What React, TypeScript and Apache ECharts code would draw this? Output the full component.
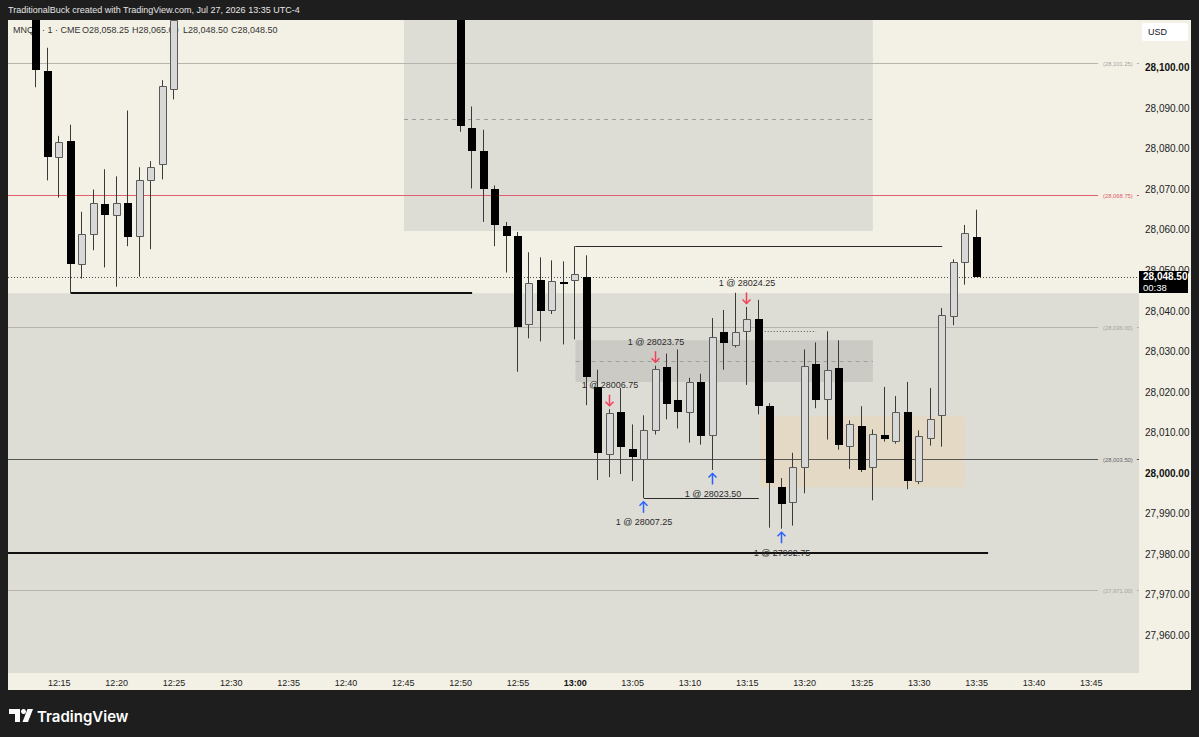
import React, { useEffect, useRef } from "react";
import * as echarts from "echarts";

// ---------------- data ----------------
// minute index: 0 = 12:15
const BASE_MINUTE = 12 * 60 + 15;
const X_MIN = -4.474;
const X_MAX = 94.16;
const Y_MIN = 27950.62;
const Y_MAX = 28111.85;

const candleMinute = [
  -2, -1, 0, 1, 2, 3, 4, 5, 6, 7, 8, 9, 10,
  35, 36, 37, 38, 39, 40, 41, 42, 43, 44, 45, 46, 47, 48, 49, 50,
  51, 52, 53, 54, 55, 56, 57, 58, 59, 60, 61, 62, 63, 64, 65, 66,
  67, 68, 69, 70, 71, 72, 73, 74, 75, 76, 77, 78, 79, 80,
];
const candleOpen = [
  28116, 28099.25, 28078, 28082, 28051.5, 28059, 28066.5, 28063.75, 28066.75, 28058.5, 28072.25, 28076.25, 28094.75,
  28116, 28085.25, 28079.5, 28070, 28061, 28058.5, 28036.75, 28047.75, 28040.25, 28047.25, 28047.75, 28048.5, 28021.25, 28004.75, 28015, 28006,
  28003.5, 28010.5, 28026.25, 28018, 28015, 28022.5, 28009.5, 28034.75, 28031.5, 28035, 28038, 28016.5, 27996.5, 27992.75, 28001.5, 28027,
  28018.25, 28026, 28006.75, 28011.5, 28001.5, 28009.5, 28008, 28015, 27998, 28008.75, 28014.25, 28038.75, 28052, 28058.25,
];
const candleClose = [
  28099.5, 28078, 28081.75, 28051.5, 28059, 28066.75, 28063.75, 28066.75, 28058.25, 28072.25, 28075.5, 28095.5, 28116,
  28085.75, 28079.5, 28070, 28061.25, 28058.5, 28036, 28047, 28040, 28047.5, 28047.25, 28049.25, 28023.75, 28005, 28014.75, 28006.5, 28004,
  28010.5, 28025.75, 28017, 28015, 28022.5, 28009.25, 28033.5, 28032, 28034.75, 28038, 28016.5, 27997.5, 27992.25, 28001.5, 28026.5, 28018,
  28025.5, 28007, 28012, 28000.75, 28009.75, 28008.5, 28015, 27998, 28009.25, 28013.25, 28039, 28052, 28059.25, 28048.5,
];
const candleLow = [
  28095.25, 28072.25, 28068, 28044.4, 28048, 28055, 28050.75, 28046, 28056, 28048.5, 28055.25, 28072.5, 28092.25,
  28084.25, 28070.25, 28062, 28056, 28049.5, 28025, 28033.25, 28032.5, 28039.25, 28031.75, 28033, 28016.75, 27998.25, 27999, 27999.75, 27998,
  27993.75, 28009.5, 28013.25, 28011, 28007.5, 28007, 28000.75, 28025.5, 28031, 28021.75, 28014.5, 27986.5, 27986.25, 27987, 27995, 28016,
  28008.25, 28005.75, 28001, 28000.25, 27993.25, 28007.75, 28007.25, 27996, 27997.25, 28006.75, 28006.5, 28036.5, 28046.5, 28048.5,
];
const candleHigh = [
  28118, 28105, 28083.25, 28086, 28064.5, 28070, 28075, 28073.25, 28089.5, 28075.5, 28077, 28097, 28118,
  28118, 28090.5, 28084.75, 28071, 28062, 28059.5, 28054.5, 28053.25, 28052.5, 28052.25, 28056, 28053.75, 28025.5, 28015.75, 28021, 28012,
  28014.25, 28026.5, 28029.5, 28030.5, 28023.5, 28024.5, 28038.25, 28040.25, 28044.5, 28041, 28042.75, 28017.25, 27998.75, 28005, 28030.5, 28032.25,
  28035, 28032.75, 28013, 28016.5, 28010.75, 28021.25, 28019, 28022.5, 28010.5, 28021, 28040.75, 28052.75, 28061.25, 28065,
];

// executions
const tradeMinute = [48, 52, 60, 51, 57, 63];
const tradeSide = ["sell", "sell", "sell", "buy", "buy", "buy"];
const tradeQty = [1, 1, 1, 1, 1, 1];
const tradePrice = [28006.75, 28023.75, 28024.25, 28007.25, 28023.5, 27992.75];

// horizontal price levels with labels
const levelPrice = [28101.25, 28068.75, 28036.0, 28003.5, 27971.0];
const levelTone = ["grey", "red", "grey", "dark", "grey"];

// rectangles (time start/end in minutes, price top/bottom)
const boxStart = [X_MIN, 30.06, 45.02, 61.11];
const boxEnd = [X_MAX, 70.95, 70.95, 78.93];
const boxTop = [28044.4, 28115.0, 28032.75, 28014.0];
const boxBottom = [27940.0, 28059.75, 28022.5, 27996.5];
const boxTone = ["zone", "zone", "inner", "tan"];
const boxMidline = [false, true, true, false];

// drawn horizontal segments
const segStart = [1, 45, X_MIN, 61, 51];
const segEnd = [36, 77, 81, 66, 61];
const segPrice = [28044.4, 28056, 27980.25, 28035, 27993.75];
const segTone = ["thick", "thin", "thick", "dotted", "thin"];

// ---------------- styles ----------------
const FONT = '"Liberation Sans", Arial, sans-serif';
const BOX_FILL: Record<string, string> = { zone: "#dddcd5", inner: "#cbcac5", tan: "#e4d9c5" };
const LEVEL_COLOR: Record<string, string> = { grey: "#b7b5ae", red: "#e0606e", dark: "#555555" };
const LEVEL_TEXT: Record<string, string> = { grey: "#a6a49e", red: "#e05a68", dark: "#666666" };
const SEG_STYLE: Record<string, any> = {
  thick: { stroke: "#111111", lineWidth: 2 },
  thin: { stroke: "#2a2a2a", lineWidth: 1 },
  dotted: { stroke: "#555555", lineWidth: 1, lineDash: [1, 2] },
};
const LEVEL_LINE_END = 90.59;
const LEVEL_LABEL_X = 91.03;
const LEVEL_DASH_START = 93.97;

const fmtPrice = (v: number) =>
  v.toLocaleString("en-US", { minimumFractionDigits: 2, maximumFractionDigits: 2 });
const fmtTime = (m: number) => {
  const t = BASE_MINUTE + m;
  const h = Math.floor(t / 60);
  const mm = t % 60;
  return `${h}:${String(mm).padStart(2, "0")}`;
};
const isMult = (v: number, k: number) => Math.abs(v - Math.round(v / k) * k) < 1e-6;
const crisp = (v: number) => Math.round(v) + 0.5;

export default function App() {
  const ref = useRef<HTMLDivElement>(null);

  useEffect(() => {
    const el = ref.current!;
    const chart = echarts.init(el, null, { renderer: "svg", width: 1199, height: 737 });

    const candleData = candleMinute.map((m, i) => [m, candleOpen[i], candleClose[i], candleLow[i], candleHigh[i]]);
    const boxData = boxStart.map((s, i) => [s, boxEnd[i], boxTop[i], boxBottom[i], i]);
    const segData = segStart.map((s, i) => [s, segEnd[i], segPrice[i], i]);
    const levelData = levelPrice.map((p, i) => [X_MIN, X_MAX, p, i]);
    const tradeData = tradeMinute.map((m, i) => {
      const k = candleMinute.indexOf(m);
      const anchor = tradeSide[i] === "sell" ? candleHigh[k] : candleLow[k];
      return [m, anchor, tradePrice[i], i];
    });
    const last = candleMinute.length - 1;
    const lastClose = candleClose[last];

    const option: any = {
      animation: false,
      backgroundColor: "transparent",
      grid: { left: 8, top: 20, width: 1131, height: 653, containLabel: false, outerBoundsMode: "none" },
      xAxis: {
        type: "value",
        min: X_MIN,
        max: X_MAX,
        splitNumber: 20,
        axisLine: { show: false },
        axisTick: { show: false },
        splitLine: { show: false },
        axisLabel: {
          margin: 5,
          color: "#222",
          fontSize: 9,
          fontFamily: FONT,
          showMinLabel: false,
          showMaxLabel: false,
          formatter: (v: number) => {
            if (!isMult(v, 5)) return "";
            const m = Math.round(v);
            const s = fmtTime(m);
            return (BASE_MINUTE + m) % 60 === 0 ? `{b|${s}}` : s;
          },
          rich: { b: { fontWeight: "bold", fontSize: 9, fontFamily: FONT, color: "#111" } },
        },
      },
      yAxis: {
        type: "value",
        position: "right",
        min: Y_MIN,
        max: Y_MAX,
        splitNumber: 16,
        axisLine: { show: false },
        axisTick: { show: false },
        splitLine: { show: false },
        axisLabel: {
          margin: 6,
          color: "#222",
          fontSize: 10,
          fontFamily: FONT,
          showMinLabel: false,
          showMaxLabel: false,
          formatter: (v: number) => {
            // labels too close to the top edge sit under the currency box
            if (!isMult(v, 10) || v > Y_MAX - 5) return "";
            const s = fmtPrice(Math.round(v));
            return isMult(v, 100) ? `{b|${s}}` : s;
          },
          rich: { b: { fontWeight: "bold", fontSize: 10, fontFamily: FONT, color: "#111" } },
        },
      },
      series: [
        {
          type: "custom",
          name: "zones",
          z: 1,
          silent: true,
          data: boxData,
          encode: { x: [0, 1], y: [2, 3] },
          renderItem: (params: any, api: any) => {
            const cs = params.coordSys;
            const i = api.value(4);
            const p1 = api.coord([api.value(0), api.value(2)]);
            const p2 = api.coord([api.value(1), api.value(3)]);
            const r = echarts.graphic.clipRectByRect(
              { x: p1[0], y: p1[1], width: p2[0] - p1[0], height: p2[1] - p1[1] },
              { x: cs.x, y: cs.y, width: cs.width, height: cs.height }
            );
            const children: any[] = [];
            if (r) {
              children.push({ type: "rect", shape: r, style: { fill: BOX_FILL[boxTone[i]] } });
            }
            if (boxMidline[i]) {
              const mid = (api.value(2) + api.value(3)) / 2;
              const y = crisp(api.coord([api.value(0), mid])[1]);
              children.push({
                type: "line",
                shape: { x1: p1[0], y1: y, x2: p2[0], y2: y },
                style: { stroke: "#9e9d98", lineWidth: 1, lineDash: [4, 4] },
              });
            }
            return { type: "group", children };
          },
        },
        {
          type: "custom",
          name: "levels",
          z: 2,
          silent: true,
          data: levelData,
          encode: { x: [0, 1], y: 2 },
          renderItem: (params: any, api: any) => {
            const i = api.value(3);
            const p = api.value(2);
            const tone = levelTone[i];
            const y = crisp(api.coord([X_MIN, p])[1]);
            const xa = api.coord([api.value(0), p])[0];
            const xb = api.coord([LEVEL_LINE_END, p])[0];
            const xl = api.coord([LEVEL_LABEL_X, p])[0];
            const xd = api.coord([LEVEL_DASH_START, p])[0];
            const xe = api.coord([api.value(1), p])[0];
            return {
              type: "group",
              children: [
                { type: "line", shape: { x1: xa, y1: y, x2: xb, y2: y }, style: { stroke: LEVEL_COLOR[tone], lineWidth: 1 } },
                { type: "line", shape: { x1: xd, y1: y, x2: xe, y2: y }, style: { stroke: LEVEL_COLOR[tone], lineWidth: 1 } },
                {
                  type: "text",
                  x: xl,
                  y: y,
                  style: {
                    text: `(${fmtPrice(p)})`,
                    fill: LEVEL_TEXT[tone],
                    fontSize: 5.8,
                    fontFamily: FONT,
                    align: "left",
                    verticalAlign: "middle",
                  },
                },
              ],
            };
          },
        },
        {
          type: "custom",
          name: "drawings",
          z: 3,
          silent: true,
          data: segData,
          encode: { x: [0, 1], y: 2 },
          renderItem: (params: any, api: any) => {
            const i = api.value(3);
            const a = api.coord([api.value(0), api.value(2)]);
            const b = api.coord([api.value(1), api.value(2)]);
            const st = SEG_STYLE[segTone[i]];
            const y = st.lineWidth === 2 ? Math.round(a[1]) : crisp(a[1]);
            return { type: "line", shape: { x1: a[0], y1: y, x2: b[0], y2: y }, style: st };
          },
        },
        {
          type: "custom",
          name: "lastPrice",
          z: 3,
          silent: true,
          data: [[X_MIN, X_MAX, lastClose]],
          encode: { x: [0, 1], y: 2 },
          renderItem: (params: any, api: any) => {
            const a = api.coord([api.value(0), api.value(2)]);
            const b = api.coord([api.value(1), api.value(2)]);
            const y = crisp(a[1]);
            return {
              type: "line",
              shape: { x1: a[0], y1: y, x2: b[0], y2: y },
              style: { stroke: "#4a4a4a", lineWidth: 1, lineDash: [1, 2] },
            };
          },
        },
        {
          type: "custom",
          name: "MNQ",
          z: 5,
          silent: true,
          data: candleData,
          encode: { x: 0, y: [1, 2, 3, 4] },
          renderItem: (params: any, api: any) => {
            const cs = params.coordSys;
            const top = cs.y;
            const bot = cs.y + cs.height;
            const cy = (v: number) => Math.max(top, Math.min(bot, v));
            const m = api.value(0);
            const o = api.value(1);
            const c = api.value(2);
            const l = api.value(3);
            const h = api.value(4);
            const x = api.coord([m, o])[0];
            const yo = api.coord([m, o])[1];
            const yc = api.coord([m, c])[1];
            const yl = cy(api.coord([m, l])[1]);
            const yh = cy(api.coord([m, h])[1]);
            const bull = c > o;
            const bw = 8;
            const left = Math.round(x - bw / 2);
            const cx = left + 3.5;
            const y1 = Math.round(cy(Math.min(yo, yc)));
            const y2 = Math.round(cy(Math.max(yo, yc)));
            const children: any[] = [
              { type: "line", shape: { x1: cx, y1: yh, x2: cx, y2: yl }, style: { stroke: "#3a3a3a", lineWidth: 1 } },
            ];
            if (bull) {
              children.push({
                type: "rect",
                shape: { x: left + 0.5, y: y1 + 0.5, width: bw - 1, height: Math.max(1, y2 - y1) },
                style: { fill: "#d8d8d6", stroke: "#5a5a5a", lineWidth: 1 },
              });
            } else {
              children.push({
                type: "rect",
                shape: { x: left, y: y1, width: bw, height: Math.max(2, y2 - y1) },
                style: { fill: "#000000" },
              });
            }
            return { type: "group", children };
          },
        },
        {
          type: "custom",
          name: "executions",
          z: 6,
          silent: true,
          data: tradeData,
          encode: { x: 0, y: 1 },
          renderItem: (params: any, api: any) => {
            const i = api.value(3);
            const p = api.coord([api.value(0), api.value(1)]);
            const sell = tradeSide[i] === "sell";
            const dir = sell ? -1 : 1;
            const x = Math.round(p[0]) - 0.5;
            const ya = p[1] + dir * 9;
            const yt = p[1] + dir * 24;
            const color = sell ? "#f0405a" : "#2962ff";
            // sell arrows point down towards the candle, buy arrows point up towards it
            const tip = sell ? ya + 5.5 : ya - 5.5;
            const back = sell ? ya - 5.5 : ya + 5.5;
            return {
              type: "group",
              children: [
                { type: "line", shape: { x1: x, y1: back, x2: x, y2: tip }, style: { stroke: color, lineWidth: 1.5 } },
                {
                  type: "polyline",
                  shape: { points: [[x - 4, tip + dir * 4], [x, tip], [x + 4, tip + dir * 4]] },
                  style: { stroke: color, lineWidth: 1.5, fill: "none" },
                },
                {
                  type: "text",
                  x: Math.round(p[0]),
                  y: yt,
                  style: {
                    text: `${tradeQty[i]} @ ${api.value(2).toFixed(2)}`,
                    fill: "#2b2b2b",
                    fontSize: 9,
                    fontFamily: FONT,
                    align: "center",
                    verticalAlign: "middle",
                  },
                },
              ],
            };
          },
        },
      ],
    };

    chart.setOption(option);

    const py = chart.convertToPixel({ yAxisIndex: 0 }, lastClose) as number;
    const legendY = 30;
    const legendStyle = { fill: "#333", fontSize: 9, fontFamily: FONT, verticalAlign: "middle" };
    const graphic: any[] = [
      {
        type: "text",
        x: 8,
        y: 10,
        z: 10,
        style: {
          text: "TraditionalBuck created with TradingView.com, Jul 27, 2026 13:35 UTC-4",
          fill: "#e6e6e6",
          fontSize: 9,
          fontFamily: FONT,
          verticalAlign: "middle",
        },
      },
      { type: "text", x: 13, y: legendY, z: 3, style: { ...legendStyle, text: "MNQ" } },
      { type: "text", x: 42, y: legendY, z: 3, style: { ...legendStyle, text: "· 1 · CME" } },
      { type: "text", x: 82, y: legendY, z: 3, style: { ...legendStyle, text: `O${fmtPrice(candleOpen[last])}` } },
      { type: "text", x: 132, y: legendY, z: 3, style: { ...legendStyle, text: `H${fmtPrice(candleHigh[last])}` } },
      { type: "text", x: 183, y: legendY, z: 3, style: { ...legendStyle, text: `L${fmtPrice(candleLow[last])}` } },
      { type: "text", x: 231, y: legendY, z: 3, style: { ...legendStyle, text: `C${fmtPrice(candleClose[last])}` } },
      { type: "rect", z: 10, shape: { x: 1142, y: 23, width: 46, height: 18, r: 2 }, style: { fill: "#ffffff" } },
      { type: "text", x: 1148, y: 32, z: 11, style: { text: "USD", fill: "#131722", fontSize: 9, fontFamily: FONT, verticalAlign: "middle" } },
      { type: "rect", z: 10, shape: { x: 1139, y: Math.round(py) - 6, width: 49, height: 22 }, style: { fill: "#000000" } },
      {
        type: "text",
        x: 1143,
        y: py,
        z: 11,
        style: { text: fmtPrice(lastClose), fill: "#ffffff", fontSize: 10, fontWeight: "bold", fontFamily: FONT, verticalAlign: "middle" },
      },
      {
        type: "text",
        x: 1143,
        y: py + 10.5,
        z: 11,
        style: { text: "00:38", fill: "#ffffff", fontSize: 9.5, fontFamily: FONT, verticalAlign: "middle" },
      },
      // TradingView logo
      {
        type: "polygon",
        z: 10,
        shape: { points: [[9, 709], [20, 709], [20, 722], [15, 722], [15, 714], [9, 714]] },
        style: { fill: "#ffffff" },
      },
      { type: "circle", z: 10, shape: { cx: 23.5, cy: 711.5, r: 2.5 }, style: { fill: "#ffffff" } },
      {
        type: "polygon",
        z: 10,
        shape: { points: [[27.5, 709], [33, 709], [28, 722], [22.5, 722]] },
        style: { fill: "#ffffff" },
      },
      {
        type: "text",
        x: 37,
        y: 716,
        z: 10,
        style: { text: "TradingView", fill: "#ffffff", fontSize: 15, fontWeight: 600, fontFamily: "Inter, Roboto, sans-serif", verticalAlign: "middle" },
      },
    ];
    chart.setOption({ graphic });

    return () => chart.dispose();
  }, []);

  return (
    <div style={{ position: "fixed", left: 0, top: 0, width: 1199, height: 737, background: "#1e1e1e", overflow: "hidden" }}>
      <div style={{ position: "absolute", left: 8, top: 20, width: 1183, height: 670, background: "#f3f1e6" }} />
      <div ref={ref} style={{ position: "absolute", left: 0, top: 0, width: 1199, height: 737 }} />
    </div>
  );
}
